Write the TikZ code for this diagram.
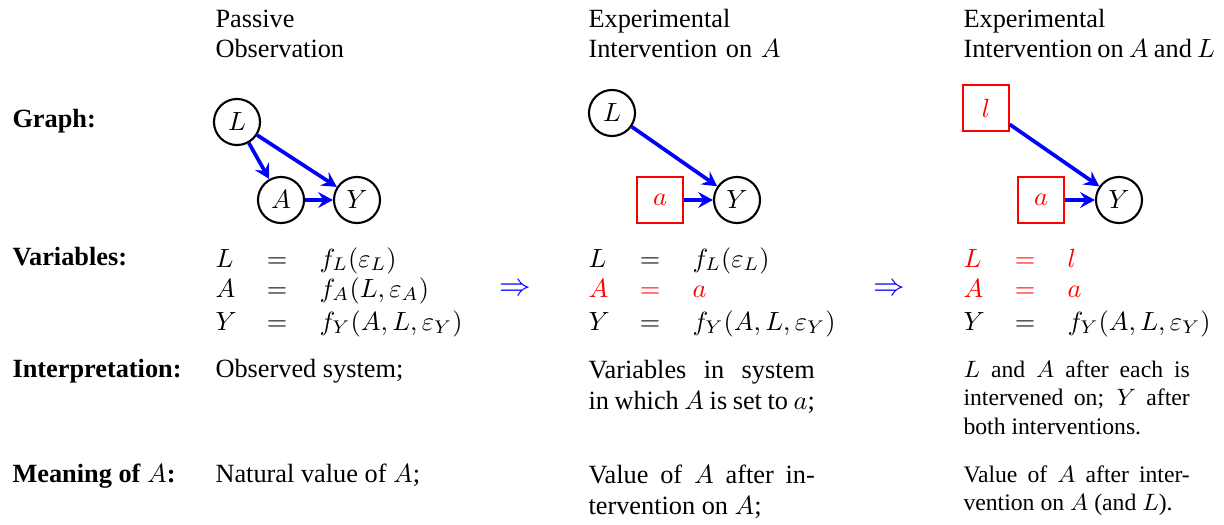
\documentclass[tikz,border=0pt]{standalone}
\usepackage{fontspec}
\setmainfont{Liberation Serif}
\usetikzlibrary{arrows.meta,positioning,calc}
\tikzset{
  var/.style={circle,draw,thick,minimum size=17.5pt,inner sep=0pt},
  fixed/.style={rectangle,draw=red,thick,text=red,minimum size=17.2pt,inner sep=0pt},
  arr/.style={-{Stealth[length=5.6pt,width=6pt,inset=2pt]},line width=1.4pt,draw=blue},
  txt/.style={anchor=base west,inner sep=0pt,font=\fontsize{10}{12}\selectfont},
  rowlab/.style={txt,font=\fontsize{10}{12}\selectfont\bfseries},
  head/.style={txt,text width=130pt,align=left,font=\fontsize{10}{11.4}\selectfont},
  para/.style={txt,text width=86pt,align=justify},
  smallpara/.style={para,font=\fontsize{9}{11}\selectfont},
  impl/.style={text=blue,font=\fontsize{13}{15}\selectfont,inner sep=0pt}
}
\begin{document}
\begin{tikzpicture}[x=0.38pt,y=-0.38pt]
  \useasboundingbox (0,0) rectangle (1224,524);
  % column heads
  \node[head] (head1) at (215,27) {Passive\\Observation};
  \node[head] (head2) at (588,27) {Experimental\\Intervention on $A$};
  \node[head] (head3) at (963,27) {Experimental\\{\spaceskip=2pt plus 1pt minus .5pt Intervention on $A$ and $L$}};
  % row labels
  \node[rowlab] (rgraph) at (12,127) {Graph:};
  \node[rowlab] (rvars) at (12,265) {Variables:};
  \node[rowlab] (rinterp) at (12,377) {Interpretation:};
  \node[rowlab] (rmean) at (12,482) {Meaning of $A$:};
  % graphs
  \node[var] (L1) at (237,122) {$L$};
  \node[var] (A1) at (281,200) {$A$};
  \node[var] (Y1) at (357,200) {$Y$};
  \draw[arr] (L1) -- (A1);
  \draw[arr] (L1) -- (Y1);
  \draw[arr] (A1) -- (Y1);
  \node[var] (L2) at (612,113) {$L$};
  \node[fixed] (a2) at (660,200) {$a$};
  \node[var] (Y2) at (737,200) {$Y$};
  \draw[arr] (L2) -- (Y2);
  \draw[arr] (a2) -- (Y2);
  \node[fixed] (l3) at (986,108) {$l$};
  \node[fixed] (a3) at (1041,200) {$a$};
  \node[var] (Y3) at (1119,200) {$Y$};
  \draw[arr] (l3) -- (Y3);
  \draw[arr] (a3) -- (Y3);
  % structural equations
  \foreach \x/\y/\lhs/\rhs/\col [count=\i] in {
    215/267/L/{f_L(\varepsilon_L)}/black,
    215/297/A/{f_A(L,\varepsilon_A)}/black,
    215/330/Y/{f_Y(A,L,\varepsilon_Y)}/black,
    588/267/L/{f_L(\varepsilon_L)}/black,
    588/297/A/a/red,
    588/330/Y/{f_Y(A,L,\varepsilon_Y)}/black,
    963/267/L/l/red,
    963/297/A/a/red,
    963/330/Y/{f_Y(A,L,\varepsilon_Y)}/black}{
    \node[txt,text=\col] (lhs\i) at (\x,\y) {$\lhs$};
    \node[txt,text=\col,anchor=base] (eq\i) at ($(\x,\y)+(62,0)$) {$=$};
    \node[txt,text=\col] (rhs\i) at ($(\x,\y)+(104,0)$) {$\rhs$};
  }
  \node[impl] (imp1) at (515,290) {$\Rightarrow$};
  \node[impl] (imp2) at (889,290) {$\Rightarrow$};
  % interpretation
  \node[txt] (interp1) at (215,377) {Observed system;};
  \node[para] (interp2) at (588,378) {Variables in system\linebreak in which $A$ is set to $a$;};
  \node[smallpara] (interp3) at (963,377) {$L$ and $A$ after each is\linebreak intervened on; $Y$ after\linebreak both interventions.};
  % meaning of A
  \node[txt] (mean1) at (215,482) {Natural value of $A$;};
  \node[para] (mean2) at (588,483) {Value of $A$ after in-\linebreak tervention on $A$;};
  \node[smallpara] (mean3) at (963,482) {Value of $A$ after inter-\linebreak vention on $A$ (and $L$).};
\end{tikzpicture}
\end{document}
